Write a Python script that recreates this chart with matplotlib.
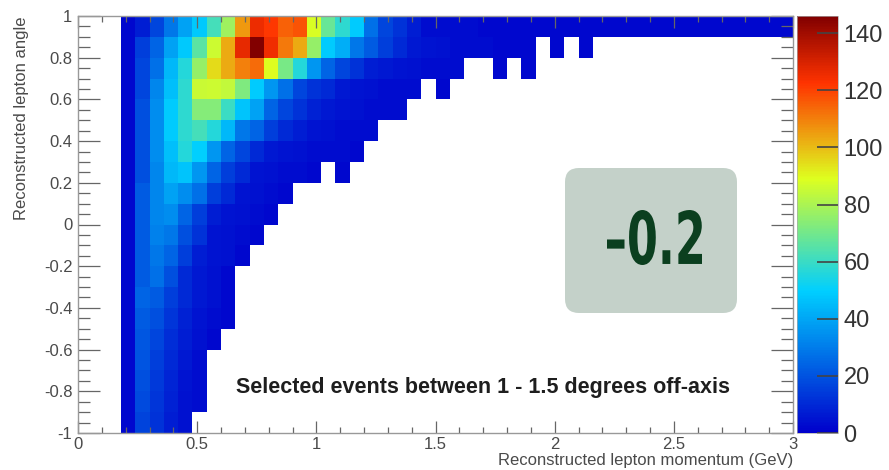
import numpy as np
import matplotlib
matplotlib.use('Agg')
import matplotlib.pyplot as plt
from matplotlib.colors import LinearSegmentedColormap
from matplotlib.ticker import MultipleLocator
from matplotlib.patches import FancyBboxPatch, PathPatch
from matplotlib.textpath import TextPath
from matplotlib.font_manager import FontProperties
from matplotlib.transforms import Affine2D

plt.rcParams['font.family'] = ['Liberation Sans', 'DejaVu Sans']

# histogram binning: momentum 0..3 GeV in 50 bins, angle -1..1 in 20 bins
x_edges = np.linspace(0, 3, 51)
y_edges = np.linspace(-1, 1, 21)
first_bin = 3   # first filled momentum bin starts at 0.18 GeV

# counts, one list per angle row (bottom row first),
# starting at first_bin. 0 = empty bin (not drawn)
row_counts = [
    [2, 16, 12, 7, 4],
    [2, 18, 13, 8, 4, 3],
    [2, 19, 14, 9, 5, 3],
    [2, 20, 15, 10, 6, 3],
    [2, 21, 17, 11, 7, 4, 2],
    [2, 22, 19, 13, 8, 5, 3, 2],
    [2, 24, 22, 15, 10, 6, 4, 2],
    [2, 22, 27, 19, 10, 6, 4, 2],
    [2, 22, 29, 24, 15, 7, 5, 4, 2],
    [2, 22, 31, 29, 19, 12, 5, 4, 3, 2],
    [2, 22, 32, 34, 24, 15, 7, 5, 4, 3, 2],
    [2, 22, 32, 39, 34, 27, 15, 10, 5, 4, 3, 2],
    [2, 19, 32, 44, 47, 36, 24, 15, 10, 5, 4, 3, 3, 2, 0, 2],
    [2, 19, 34, 46, 56, 50, 36, 24, 17, 10, 6, 5, 4, 3, 3, 3, 2],
    [2, 19, 34, 49, 58, 62, 56, 44, 29, 24, 15, 10, 7, 5, 4, 3, 3, 3],
    [2, 19, 34, 49, 58, 73, 73, 60, 47, 39, 24, 17, 12, 8, 6, 5, 4, 3, 3, 3],
    [2, 17, 32, 46, 58, 85, 86, 84, 72, 49, 36, 27, 17, 12, 10, 6, 5, 4, 3, 3,
     3, 0, 2],
    [2, 17, 27, 44, 56, 76, 95, 103, 110, 113, 89, 71, 56, 36, 24, 17, 12, 7,
     6, 5, 4, 3, 3, 3, 0, 0, 2, 0, 2],
    [2, 15, 24, 39, 48, 66, 86, 103, 127, 146, 125, 111, 103, 76, 49, 42, 29,
     22, 15, 10, 6, 5, 4, 3, 3, 3, 2, 2, 2, 0, 2, 0, 2],
    [2, 7, 17, 29, 39, 48, 62, 78, 106, 126, 122, 115, 117, 88, 68, 58, 49,
     27, 17, 12, 7, 3, 3, 3, 3, 2, 2, 2, 2, 2, 2, 2, 2, 2, 2, 2, 2, 2, 2,
     2, 2, 2, 2, 2, 2, 2, 2],
]

x_ticks = [0, 0.5, 1, 1.5, 2, 2.5, 3]
x_tick_labels = ['0', '0.5', '1', '1.5', '2', '2.5', '3']
y_ticks = [-1, -0.8, -0.6, -0.4, -0.2, 0, 0.2, 0.4, 0.6, 0.8, 1]
y_tick_labels = ['-1', '-0.8', '-0.6', '-0.4', '-0.2', '0', '0.2', '0.4',
                 '0.6', '0.8', '1']
cbar_ticks = [0, 20, 40, 60, 80, 100, 120, 140]
z_max = 146
badge_value = '\u20130.2'

# ROOT-like rainbow palette
palette_stops = [0.0, 0.34, 0.61, 0.84, 1.0]
palette_colors = ['#0000cc', '#00cfff', '#deff1f', '#ff3300', '#820000']
cmap = LinearSegmentedColormap.from_list(
    'rootpal', list(zip(palette_stops, palette_colors)))

counts = np.zeros((len(y_edges) - 1, len(x_edges) - 1))
for j, row in enumerate(row_counts):
    counts[j, first_bin:first_bin + len(row)] = row
counts = np.ma.masked_equal(counts, 0)

fig = plt.figure(figsize=(8.89, 4.70), dpi=100)
ax = fig.add_axes([78/889, 37/470, 715/889, 417/470])
mesh = ax.pcolormesh(x_edges, y_edges, counts, cmap=cmap, vmin=0, vmax=z_max)

ax.set_xlim(0, 3)
ax.set_ylim(-1, 1)
ax.set_xticks(x_ticks)
ax.set_xticklabels(x_tick_labels)
ax.set_yticks(y_ticks)
ax.set_yticklabels(y_tick_labels)
ax.xaxis.set_minor_locator(MultipleLocator(0.1))
ax.yaxis.set_minor_locator(MultipleLocator(0.05))
tick_col = '#666666'
ax.tick_params(axis='both', which='both', direction='in', top=True,
               right=True, color=tick_col, labelcolor='#4a4a4a',
               labelsize=12, width=0.9)
ax.tick_params(axis='x', which='major', length=8.5, pad=3)
ax.tick_params(axis='x', which='minor', length=4.3)
ax.tick_params(axis='y', which='major', length=16, pad=4)
ax.tick_params(axis='y', which='minor', length=8.5)
for s in ax.spines.values():
    s.set_color('#999999')
    s.set_linewidth(1.0)

fig.text(793/889, 1 - 461/470, 'Reconstructed lepton momentum (GeV)',
         ha='right', va='center', fontsize=12, color='#4a4a4a')
fig.text(22/889, 1 - 16/470, 'Reconstructed lepton angle', rotation=90,
         ha='center', va='top', fontsize=12, color='#4a4a4a')

ax.text(0.566, 0.11, 'Selected events between 1 - 1.5 degrees off-axis',
        transform=ax.transAxes, ha='center', va='center', fontsize=15.5,
        fontweight='bold', color='#1e1e1e')

# palette axis
cax = fig.add_axes([797/889, 37/470, 41/889, 417/470])
cb = fig.colorbar(mesh, cax=cax, ticks=cbar_ticks)
cb.outline.set_linewidth(0.5)
cb.outline.set_edgecolor('#aaaaaa')
cax.tick_params(direction='in', length=15, width=1.2, color='#444444',
                labelsize=17, labelcolor='#333333', pad=4)
cax.minorticks_off()

# overlay with the value badge, pixel coordinates (y down)
ov = fig.add_axes([0, 0, 1, 1])
ov.set_xlim(0, 889)
ov.set_ylim(470, 0)
ov.axis('off')
badge = FancyBboxPatch((565, 168), 172, 145,
                       boxstyle='round,pad=0,rounding_size=14',
                       facecolor='#c4d1c9', edgecolor='none')
ov.add_patch(badge)

# condensed heavy digits: squeeze a bold text path into the label box
tp = TextPath((0, 0), badge_value, size=50,
              prop=FontProperties(family='DejaVu Sans', weight='bold'))
ext = tp.get_extents()
box_x0, box_x1, box_top, box_bot = 607, 702, 210, 265
sx = (box_x1 - box_x0) / ext.width
sy = (box_bot - box_top) / ext.height
tr = (Affine2D().translate(-ext.x0, -ext.y0).scale(sx, -sy)
      .translate(box_x0, box_bot))
ov.add_patch(PathPatch(tr.transform_path(tp), facecolor='#0b3f1f',
                       edgecolor='none'))

fig.savefig('out.png', dpi=100)
